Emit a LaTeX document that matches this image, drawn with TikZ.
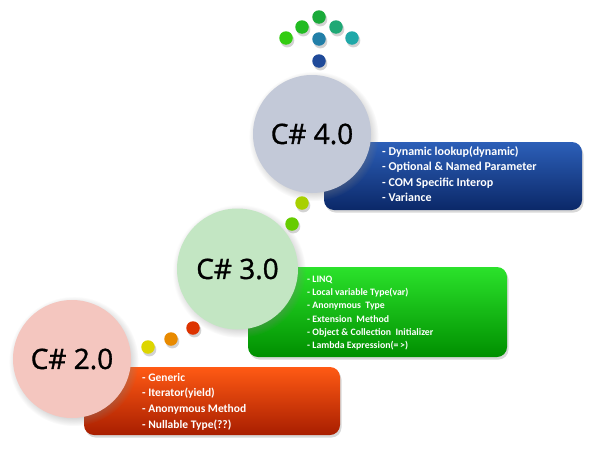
\documentclass[tikz,border=0pt]{standalone}
\usepackage{fontspec}
\setmainfont{Carlito}
\newfontfamily\circfont[FakeBold=1.2]{Open Sans}
\usetikzlibrary{shadows}
\definecolor{cfour}{HTML}{C3C9D8}
\definecolor{cthree}{HTML}{C3E6C3}
\definecolor{ctwo}{HTML}{F4C6BF}
\definecolor{bluetop}{HTML}{2C5FB8}
\definecolor{bluebot}{HTML}{0B2868}
\definecolor{greentop}{HTML}{2BE22B}
\definecolor{greenbot}{HTML}{008F00}
\definecolor{orangetop}{HTML}{FF5A14}
\definecolor{orangebot}{HTML}{A81E00}
\tikzset{
  verbubble/.style={circle, minimum size=118pt, inner sep=0pt,
    font=\circfont\fontsize{28}{32}\selectfont, text=black,
    circular drop shadow={shadow xshift=1.5pt, shadow yshift=-2pt, opacity=0.35}},
  featbox/.style={rounded corners=10pt, inner sep=0pt,
    drop shadow={shadow xshift=1.5pt, shadow yshift=-2.5pt, opacity=0.3}},
  feattext/.style={anchor=west, align=left, text=white, inner sep=0pt,
    font=\bfseries},
  dot/.style={circle, minimum size=13.5pt, inner sep=0pt,
    circular drop shadow={shadow xshift=1pt, shadow yshift=-2pt, opacity=0.35}}
}
\begin{document}
\begin{tikzpicture}[x=1pt,y=-1pt]
\useasboundingbox[fill=white] (0,0) rectangle (605,450);
% boxes
\node[featbox, minimum width=258pt, minimum height=68pt,
  top color=bluetop, bottom color=bluebot] (b4) at (453,176) {};
\node[featbox, minimum width=259pt, minimum height=90pt,
  top color=greentop, bottom color=greenbot] (b3) at (377.5,312) {};
\node[featbox, minimum width=256pt, minimum height=68pt,
  top color=orangetop, bottom color=orangebot] (b2) at (212,401) {};
% box texts
\node[feattext, font=\bfseries\fontsize{12}{15.3}\selectfont] (t4) at (382,174)
  {- Dynamic lookup(dynamic)\\- Optional \& Named Parameter\\- COM Specific Interop\\- Variance};
\node[feattext, font=\bfseries\fontsize{9.8}{13.3}\selectfont] (t3) at (307,313)
  {- LINQ\\- Local variable Type(var)\\- Anonymous\ \ Type\\- Extension\ \ Method\\- Object \& Collection\ \ Initializer\\- Lambda Expression(=\,>)};
\node[feattext, font=\bfseries\fontsize{11.5}{15.7}\selectfont] (t2) at (142,401.5)
  {- Generic\\- Iterator(yield)\\- Anonymous Method\\- Nullable Type(??)};
% circles
\node[verbubble, fill=cfour] (c4) at (312,134) {C\# 4.0};
\node[verbubble, fill=cthree, minimum size=121pt] (c3) at (237.5,269) {C\# 3.0};
\node[verbubble, fill=ctwo] (c2) at (72,359) {C\# 2.0};
% dots top cluster
\node[dot, fill={rgb,255:red,26;green,170;blue,58}] (d1) at (319,17) {};
\node[dot, fill={rgb,255:red,34;green,187;blue,34}] (d2) at (302,27) {};
\node[dot, fill={rgb,255:red,31;green,168;blue,117}] (d3) at (336,27) {};
\node[dot, fill={rgb,255:red,51;green,204;blue,17}] (d4) at (286,38) {};
\node[dot, fill={rgb,255:red,34;green,127;blue,168}] (d5) at (319,39) {};
\node[dot, fill={rgb,255:red,32;green,168;blue,168}] (d6) at (352,38) {};
\node[dot, fill={rgb,255:red,31;green,74;blue,153}] (d7) at (319,61) {};
% dots between 3.0 and 4.0
\node[dot, fill={rgb,255:red,168;green,208;blue,0}] (d8) at (302,203) {};
\node[dot, fill={rgb,255:red,102;green,204;blue,0}] (d9) at (292,224) {};
% dots between 2.0 and 3.0
\node[dot, fill={rgb,255:red,221;green,214;blue,0}] (d10) at (148,347) {};
\node[dot, fill={rgb,255:red,232;green,138;blue,0}] (d11) at (171,339) {};
\node[dot, fill={rgb,255:red,221;green,51;blue,0}] (d12) at (193,328) {};
\end{tikzpicture}
\end{document}
